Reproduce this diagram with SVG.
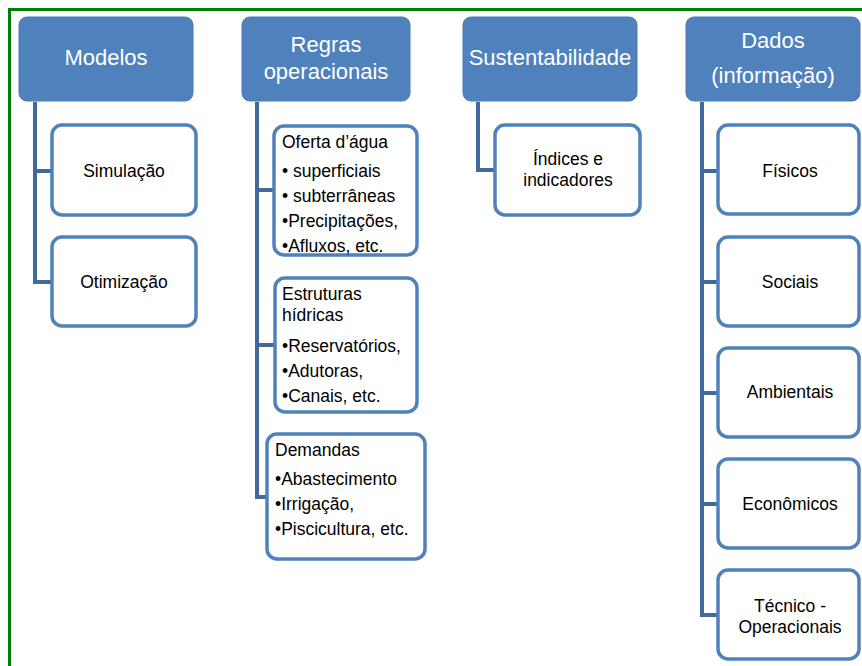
<svg xmlns="http://www.w3.org/2000/svg" width="862" height="666" viewBox="0 0 862 666">
<style>
.hdr rect{fill:#4F81BD;stroke:#4A7AB5;stroke-width:1}
.hdr text{fill:#fff;font-family:"Liberation Sans",Arial,sans-serif;font-size:22px;text-anchor:middle}
.box rect{fill:#fff;stroke:#4F81BD;stroke-width:3.5}
.box text{fill:#000;font-family:"Liberation Sans",Arial,sans-serif;font-size:17.5px}
.c text{text-anchor:middle}
.conn path{fill:none;stroke:#41699C;stroke-width:4}
</style>
<rect width="862" height="666" fill="#fff"/>
<path d="M9.5 666V9.5H862" fill="none" stroke="#008000" stroke-width="3"/>
<g class="conn">
<path d="M35 102V282H52M35 171H52"/>
<path d="M257 102V497H266M257 190H273M257 345H275"/>
<path d="M478 102V170H495"/>
<path d="M702 102V615H718M702 171H718M702 282H718M702 393H718M702 504H718"/>
</g>
<g id="modelos" class="hdr"><rect x="19" y="17" width="174" height="84" rx="8"/><text x="106" y="65">Modelos</text></g>
<g id="regras" class="hdr"><rect x="242" y="17" width="168" height="84" rx="8"/><text x="326" y="52">Regras</text><text x="326" y="79">operacionais</text></g>
<g id="sustentabilidade" class="hdr"><rect x="463" y="17" width="174" height="84" rx="8"/><text x="550" y="65">Sustentabilidade</text></g>
<g id="dados" class="hdr"><rect x="686" y="17" width="174" height="84" rx="8"/><text x="773" y="48">Dados</text><text x="773" y="83">(informação)</text></g>
<g id="simulacao" class="box c"><rect x="52" y="125" width="144" height="90" rx="10"/><text x="124" y="177">Simulação</text></g>
<g id="otimizacao" class="box c"><rect x="52" y="237" width="144" height="89" rx="10"/><text x="124" y="288">Otimização</text></g>
<g id="oferta" class="box"><rect x="274" y="126" width="143" height="129" rx="10"/><text x="282" y="148">Oferta d’água</text><text x="282" y="177">• superficiais</text><text x="282" y="202">• subterrâneas</text><text x="282" y="227">•Precipitações,</text><text x="282" y="252">•Afluxos, etc.</text></g>
<g id="estruturas" class="box"><rect x="275" y="278" width="142" height="134" rx="10"/><text x="282" y="300">Estruturas</text><text x="282" y="321">hídricas</text><text x="282" y="352">•Reservatórios,</text><text x="282" y="377">•Adutoras,</text><text x="282" y="402">•Canais, etc.</text></g>
<g id="demandas" class="box"><rect x="267" y="434" width="158" height="125" rx="10"/><text x="275" y="456">Demandas</text><text x="275" y="485">•Abastecimento</text><text x="275" y="510">•Irrigação,</text><text x="275" y="535">•Piscicultura, etc.</text></g>
<g id="indices" class="box c"><rect x="495" y="125" width="145" height="90" rx="10"/><text x="568" y="165">Índices e</text><text x="568" y="186">indicadores</text></g>
<g id="fisicos" class="box c"><rect x="718" y="125" width="141" height="89" rx="10"/><text x="790" y="177">Físicos</text></g>
<g id="sociais" class="box c"><rect x="718" y="237" width="141" height="89" rx="10"/><text x="790" y="288">Sociais</text></g>
<g id="ambientais" class="box c"><rect x="718" y="348" width="141" height="89" rx="10"/><text x="790" y="398">Ambientais</text></g>
<g id="economicos" class="box c"><rect x="718" y="459" width="141" height="89" rx="10"/><text x="790" y="510">Econômicos</text></g>
<g id="tecnico" class="box c"><rect x="718" y="570" width="141" height="89" rx="10"/><text x="790" y="612">Técnico -</text><text x="790" y="633">Operacionais</text></g>
</svg>
